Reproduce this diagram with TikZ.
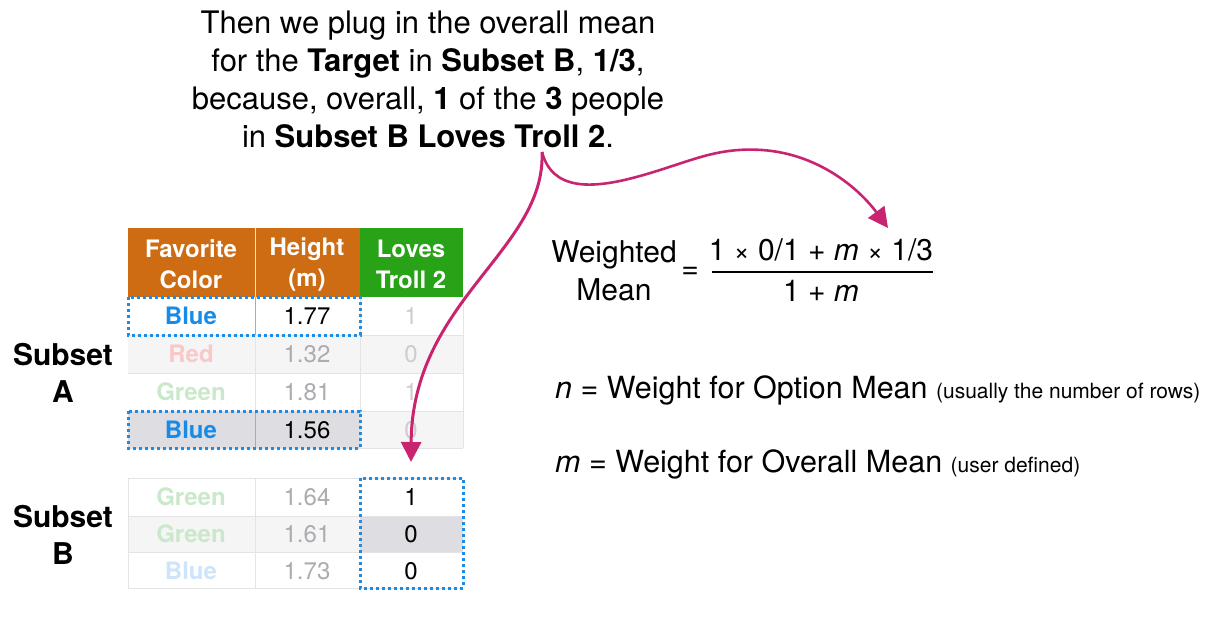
\documentclass[tikz,border=0pt]{standalone}
\usepackage{fontspec}
\setmainfont{TeX Gyre Heros}
\usetikzlibrary{arrows.meta}
\definecolor{hdrorange}{RGB}{206,108,20}
\definecolor{hdrgreen}{RGB}{40,162,22}
\definecolor{selblue}{RGB}{22,140,232}
\definecolor{boxblue}{RGB}{30,140,230}
\definecolor{selgrey}{RGB}{221,221,226}
\definecolor{stripe}{RGB}{245,245,246}
\definecolor{gridl}{RGB}{228,228,230}
\definecolor{gridd}{RGB}{170,170,175}
\definecolor{fadered}{RGB}{249,200,200}
\definecolor{fadegreen}{RGB}{202,232,202}
\definecolor{fadeblue}{RGB}{205,228,250}
\definecolor{fadenum}{RGB}{172,172,176}
\definecolor{fadenum2}{RGB}{205,205,208}
\definecolor{pink}{RGB}{200,36,112}
\begin{document}
\begin{tikzpicture}[x=1pt,y=-1pt,
  tbl/.style={inner sep=0pt, font=\fontsize{24}{28}\selectfont},
  tblb/.style={inner sep=0pt, font=\fontsize{24}{28}\selectfont\bfseries},
  hdr/.style={inner sep=0pt, align=center, text=white, font=\fontsize{24}{31}\selectfont\bfseries},
  big/.style={inner sep=0pt, align=center, font=\fontsize{31}{38}\selectfont},
  lbl/.style={inner sep=0pt, align=center, font=\fontsize{30}{37}\selectfont\bfseries},
  frm/.style={inner sep=0pt, align=center, font=\fontsize{30}{38}\selectfont},
  defn/.style={inner sep=0pt, anchor=base west, font=\fontsize{30.5}{36}\selectfont},
  selbox/.style={draw=boxblue, line width=3pt, dash pattern=on 3pt off 3pt},
  conn/.style={draw=pink, line width=3pt, -{Triangle[length=20pt,width=20pt]}}
]
\useasboundingbox (0,0) rectangle (1212,616);
% ---- header
\fill[hdrorange] (128,228) rectangle (360,297);
\fill[hdrgreen] (360,228) rectangle (463,297);
\draw[white!80!hdrorange, line width=0.6pt] (255,228) -- (255,297);
\node[hdr] (h1) at (191,264) {Favorite\\Color};
\node[hdr] (h2) at (307,264) {Height\\(m)};
\node[hdr] (h3) at (411,264) {Loves\\Troll 2};
% ---- backgrounds subset A
\fill[stripe] (128,335) rectangle (463,373);
\fill[selgrey] (128,411) rectangle (360,448);
\fill[stripe] (360,411) rectangle (463,448);
% ---- backgrounds subset B
\fill[stripe] (128,516) rectangle (360,552);
\fill[selgrey] (360,516) rectangle (463,552);
% ---- grid A
\foreach \yy in {335,373,411,448} \draw[gridl, line width=0.8pt] (128,\yy) -- (463,\yy);
\draw[gridl, line width=0.8pt] (255,297) -- (255,448);
\draw[gridl, line width=0.8pt] (360,297) -- (360,448);
\draw[gridl, line width=0.8pt] (463,297) -- (463,448);
\draw[gridd, line width=0.8pt] (255,297) -- (255,335);
\draw[gridd, line width=0.8pt] (255,411) -- (255,448);
% ---- grid B
\foreach \yy in {478,516,552,588} \draw[gridl, line width=0.8pt] (128,\yy) -- (463,\yy);
\draw[gridl, line width=0.8pt] (128,478) -- (128,588);
\draw[gridl, line width=0.8pt] (255,478) -- (255,588);
% ---- cells subset A
\node[tblb, text=selblue] (a11) at (191,316) {Blue};
\node[tbl] (a12) at (307,316) {1.77};
\node[tbl, text=fadenum2] (a13) at (411,316) {1};
\node[tblb, text=fadered] (a21) at (191,354) {Red};
\node[tbl, text=fadenum] (a22) at (307,354) {1.32};
\node[tbl, text=fadenum2] (a23) at (411,354) {0};
\node[tblb, text=fadegreen] (a31) at (191,392) {Green};
\node[tbl, text=fadenum] (a32) at (307,392) {1.81};
\node[tbl, text=fadenum2] (a33) at (411,392) {1};
\node[tblb, text=selblue] (a41) at (191,430) {Blue};
\node[tbl] (a42) at (307,430) {1.56};
\node[tbl, text=fadenum2] (a43) at (411,430) {0};
% ---- cells subset B
\node[tblb, text=fadegreen] (b11) at (191,497) {Green};
\node[tbl, text=fadenum] (b12) at (307,497) {1.64};
\node[tbl] (b13) at (411,497) {1};
\node[tblb, text=fadegreen] (b21) at (191,534) {Green};
\node[tbl, text=fadenum] (b22) at (307,534) {1.61};
\node[tbl] (b23) at (411,534) {0};
\node[tblb, text=fadeblue] (b31) at (191,571) {Blue};
\node[tbl, text=fadenum] (b32) at (307,571) {1.73};
\node[tbl] (b33) at (411,571) {0};
% ---- selection boxes
\draw[selbox] (128,297) rectangle (360,335);
\draw[selbox] (128,411) rectangle (360,448);
\draw[selbox] (360,478) rectangle (463,588);
% ---- subset labels
\node[lbl] (subA) at (63,373) {Subset\\A};
\node[lbl] (subB) at (63,535) {Subset\\B};
% ---- top text
\node[big] (title) at (428,79) {Then we plug in the overall mean\\
for the \textbf{Target} in \textbf{Subset B}, \textbf{1/3},\\
because, overall, \textbf{1} of the \textbf{3} people\\
in \textbf{Subset B Loves Troll 2}.};
% ---- formula
\node[frm] (wm) at (614,271) {Weighted\\Mean};
\node[frm] (eq) at (690,273) {=};
\node[frm, anchor=base] (num) at (821,260) {1 {\fontsize{27}{28}\selectfont ×} 0/1 + \textit{m} {\fontsize{27}{28}\selectfont ×} 1/3};
\node[frm, anchor=base] (den) at (821,301) {1 + \textit{m}};
\draw[line width=2.6pt] (712,272) -- (933,272);
% ---- definitions
\node[defn] (ndef) at (555,398) {\textit{n} = Weight for Option Mean {\fontsize{21}{22}\selectfont (usually the number of rows)}};
\node[defn] (mdef) at (555,472) {\textit{m} = Weight for Overall Mean {\fontsize{21}{22}\selectfont (user defined)}};
% ---- arrows
\coordinate (cusp) at (542,152);
\coordinate (tipL) at (411,462);
\coordinate (tipR) at (888,228);
\draw[conn] (cusp) .. controls (546,250) and (412,300) .. (tipL);
\draw[conn, line width=2.6pt] (cusp) .. controls (552,190) and (590,190) .. (640,176)
  .. controls (690,162) and (715,147) .. (762,150)
  .. controls (820,154) and (860,190) .. (tipR);
\end{tikzpicture}
\end{document}
